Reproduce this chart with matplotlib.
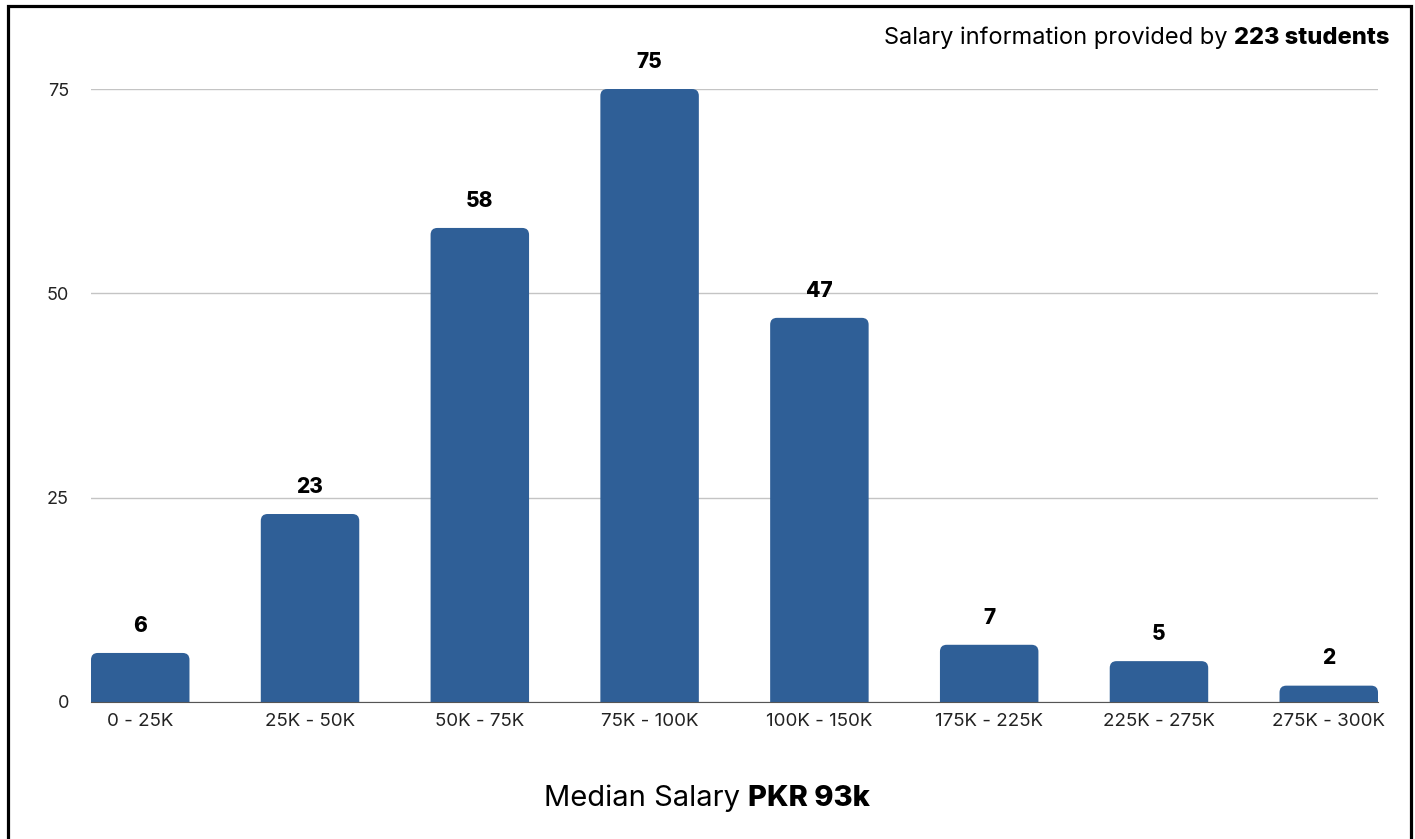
import matplotlib.pyplot as plt
from matplotlib.patches import FancyBboxPatch, Rectangle

plt.rcParams['font.family'] = ['Inter', 'DejaVu Sans']

# salary ranges and number of students in each
ranges = ['0 - 25K', '25K - 50K', '50K - 75K', '75K - 100K', '100K - 150K',
          '175K - 225K', '225K - 275K', '275K - 300K']
students = [6, 23, 58, 75, 47, 7, 5, 2]
yticks = [0, 25, 50, 75]

bar_color = '#2f5f97'
w = 0.58

fig = plt.figure(figsize=(14.15, 8.39), dpi=100)
ax = fig.add_axes([91 / 1415, 137 / 839, 1287 / 1415, 613 / 839])

# rounded-top bars (bottom pushed under the axis and clipped)
for i, v in enumerate(students):
    p = FancyBboxPatch((i - w / 2, -2), w, v + 2,
                       boxstyle='round,pad=0,rounding_size=0.04',
                       mutation_aspect=21, facecolor=bar_color,
                       edgecolor='none', zorder=3)
    ax.add_patch(p)
    ax.text(i, v + 2.1, str(v), ha='center', va='bottom', fontsize=15,
            fontweight='heavy', color='black', clip_on=False)

ax.set_xlim(-w / 2, len(students) - 1 + w / 2)
ax.set_ylim(0, 75)
ax.set_xticks(range(len(ranges)))
ax.set_xticklabels(ranges, fontsize=13.5)
ax.set_yticks(yticks)
ax.set_yticklabels([str(t) for t in yticks], fontsize=13)
ax.tick_params(axis='both', length=0, colors='#222222')
ax.tick_params(axis='y', pad=16)
ax.tick_params(axis='x', pad=8)
ax.grid(axis='y', color='#c4c4c4', linewidth=1, zorder=0)
for s in ['top', 'right', 'left']:
    ax.spines[s].set_visible(False)
ax.spines['bottom'].set_color('#555555')
ax.spines['bottom'].set_zorder(4)

# header note, right aligned, with bold count
t1 = fig.text(1390 / 1415, 1 - 44 / 839, '223 students', ha='right',
              va='baseline', fontsize=17, fontweight='heavy')
fig.canvas.draw()
bb = t1.get_window_extent()
fig.text(bb.x0 / 1415, 1 - 44 / 839, 'Salary information provided by ',
         ha='right', va='baseline', fontsize=17)

# median salary line under the chart
t2 = fig.text(707 / 1415, 1 - 806 / 839, 'Median Salary ', ha='right',
              va='baseline', fontsize=21)
t3 = fig.text(707 / 1415, 1 - 806 / 839, 'PKR 93k', ha='left',
              va='baseline', fontsize=21, fontweight='heavy')
fig.canvas.draw()
total = t2.get_window_extent().width + t3.get_window_extent().width
shift = (total / 2 - t2.get_window_extent().width) / 1415
t2.set_x(707 / 1415 - shift)
t3.set_x(707 / 1415 - shift)

# outer frame
fig.patches.append(Rectangle((7.5 / 1415, -0.05), 1403 / 1415, 1.05 - 5.5 / 839,
                             transform=fig.transFigure, fill=False,
                             edgecolor='black', linewidth=2.3))

fig.savefig('out.png', dpi=100)
